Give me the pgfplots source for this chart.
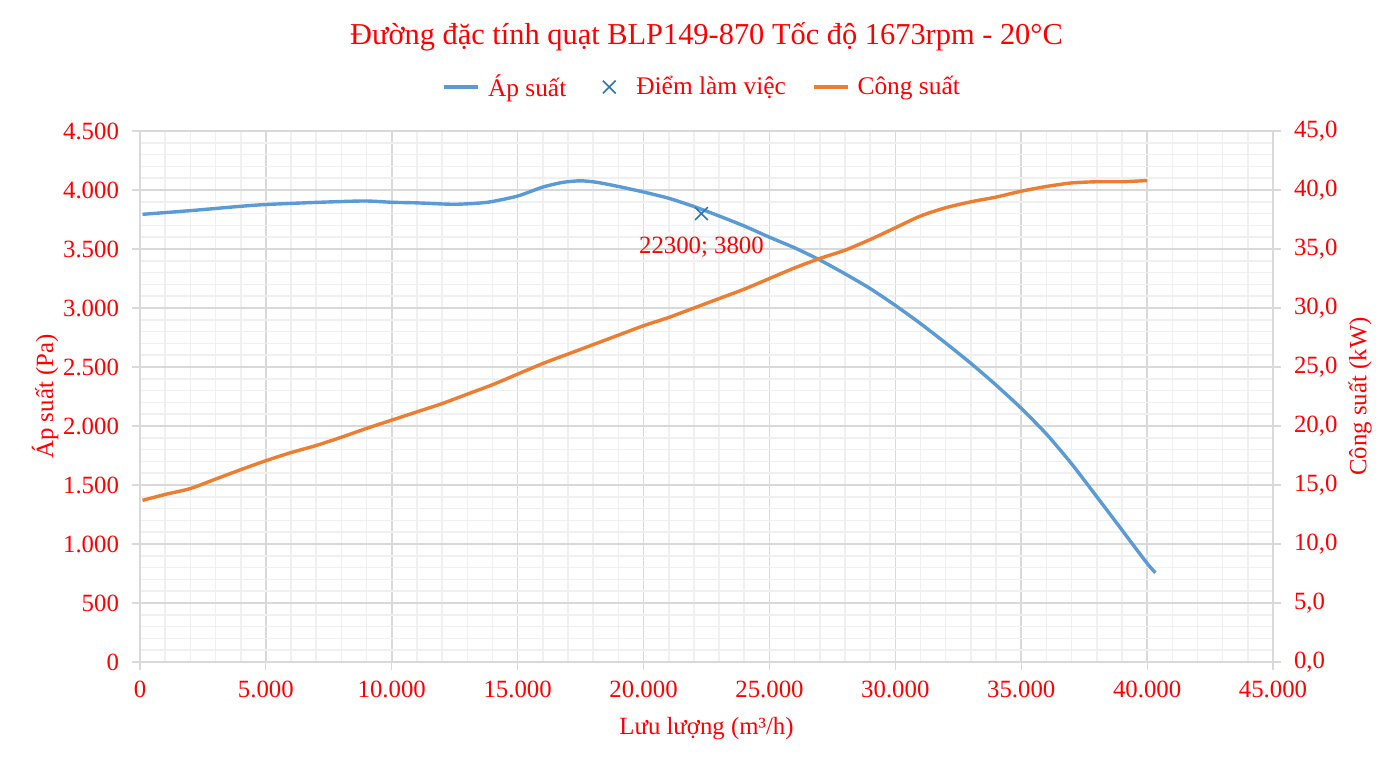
\documentclass[border=0pt]{standalone}
\usepackage{fontspec}
\setmainfont{Liberation Serif}
\usepackage{pgfplots}
\pgfplotsset{compat=1.18}
\definecolor{cblue}{HTML}{5B9BD5}
\definecolor{corange}{HTML}{ED7D31}
\definecolor{cmark}{HTML}{2E75B6}
\definecolor{cred}{HTML}{FF0000}
\definecolor{gmaj}{HTML}{D9D9D9}
\definecolor{gmin}{HTML}{F0F0F0}
\newcommand{\tf}{\fontsize{12.4}{14}\selectfont}
\newcommand{\lf}{\fontsize{12.7}{14}\selectfont}
\begin{document}
\begin{tikzpicture}
\pgfplotsset{
  base/.style={
    scale only axis, width=566.5pt, height=265.5pt,
    at={(0,0)}, anchor=south west,
    xmin=0, xmax=45000, ymin=0,
    /pgf/number format/assume math mode=true,
    tick label style={font=\tf, text=cred},
    label style={font=\tf, text=cred},
    tick align=outside, major tick length=4pt,
    tick style={gmaj, line width=0.6pt},
    axis line style={gmaj, line width=0.8pt},
  }
}
\begin{axis}[base,
  ymax=4500,
  xtick={0,5000,...,45000},
  ytick={0,500,...,4500},
  minor xtick={0,1000,...,45000},
  minor ytick={0,100,...,4500},
  grid=both,
  major grid style={gmaj, line width=0.8pt},
  minor grid style={gmin, line width=0.8pt},
  minor tick length=0pt,
  xticklabel style={yshift=-2pt, /pgf/number format/.cd, fixed, 1000 sep={.}},
  yticklabel style={xshift=-3pt, /pgf/number format/.cd, fixed, 1000 sep={.}},
  scaled ticks=false,
  axis y line*=left, axis x line*=bottom,
  xlabel={Lưu lượng (m³/h)},
  ylabel={Áp suất (Pa)},
  xlabel style={at={(axis description cs:0.5,0)}, anchor=center, yshift=-33.5pt},
  ylabel style={at={(axis description cs:0,0.5)}, anchor=center, rotate=0, yshift=47.5pt},
  title={Đường đặc tính quạt BLP149-870 Tốc độ 1673rpm - 20°C},
  title style={font=\fontsize{15.2}{17}\selectfont, text=cred, at={(axis description cs:0.5,1)}, anchor=center, yshift=41pt},
  legend style={at={(axis description cs:0.497,1)}, anchor=center, yshift=22pt, draw=none, font=\lf, text=cred, legend columns=3, /tikz/every even column/.append style={column sep=11pt}},
  legend image code/.code={\draw[#1] (0pt,0pt) -- (17pt,0pt); \path[draw=none] (0pt,0pt) -- (20pt,0pt);},
]
\addplot[cblue, line width=1.7pt, smooth, tension=0.4] coordinates {
(100,3794) (2000,3825) (4000,3862) (5000,3877) (7000,3895) (8900,3907) (10000,3896) (11000,3891) (12500,3879) (13800,3896) (15000,3949) (16000,4025) (16800,4065) (17500,4078) (18150,4065) (19000,4030) (20000,3983) (21000,3930) (22000,3860) (23000,3780) (24000,3695) (25000,3600) (26000,3510) (27000,3407) (28000,3290) (29000,3165) (30000,3022) (31000,2868) (32000,2703) (33000,2531) (34000,2347) (35000,2150) (36000,1932) (37000,1680) (38000,1401) (39000,1119) (40000,836) (40330,757)
};
\addlegendentry{Áp suất}
\addplot[only marks, mark=x, mark size=4.5pt, cmark, line width=0.8pt,
  legend image code/.code={\draw[mark=x, mark size=4.5pt, cmark, line width=0.8pt] plot coordinates {(8.5pt,0pt)}; \path[draw=none] (0pt,0pt) -- (20pt,0pt);},
  nodes near coords={22300; 3800},
  every node near coord/.style={font=\tf, text=cred, anchor=north, yshift=-8pt}] coordinates {(22300,3800)};
\addlegendentry{Điểm làm việc}
\addlegendimage{corange, line width=1.7pt}
\addlegendentry{Công suất}
\end{axis}
\begin{axis}[base,
  ymax=45,
  axis y line*=right, axis x line=none,
  ytick={0,5,...,45},
  yticklabel style={xshift=3pt, /pgf/number format/.cd, fixed, fixed zerofill, precision=1, use comma},
  ylabel={Công suất (kW)},
  ylabel style={at={(axis description cs:1,0.5)}, anchor=center, rotate=0, yshift=-43.5pt},
]
\addplot[corange, line width=1.7pt, smooth, tension=0.4] coordinates {
(100,13.7) (1000,14.2) (2000,14.7) (3000,15.5) (4000,16.3) (5000,17.06) (6000,17.75) (7000,18.35) (8000,19.05) (9000,19.8) (10000,20.5) (11000,21.2) (12000,21.9) (13000,22.7) (14000,23.5) (15000,24.4) (16000,25.3) (17000,26.1) (18000,26.9) (19000,27.7) (20000,28.5) (21000,29.2) (22000,30.0) (23000,30.8) (24000,31.6) (25000,32.5) (26000,33.4) (27000,34.2) (28000,34.9) (29000,35.8) (30000,36.8) (31000,37.8) (32000,38.5) (33000,39.0) (34000,39.4) (35000,39.9) (36000,40.3) (37000,40.6) (38000,40.7) (39000,40.7) (40000,40.8)
};
\end{axis}
\pgfresetboundingbox
\useasboundingbox (-70pt,-52.5pt) rectangle (630pt,331pt);
\end{tikzpicture}
\end{document}
